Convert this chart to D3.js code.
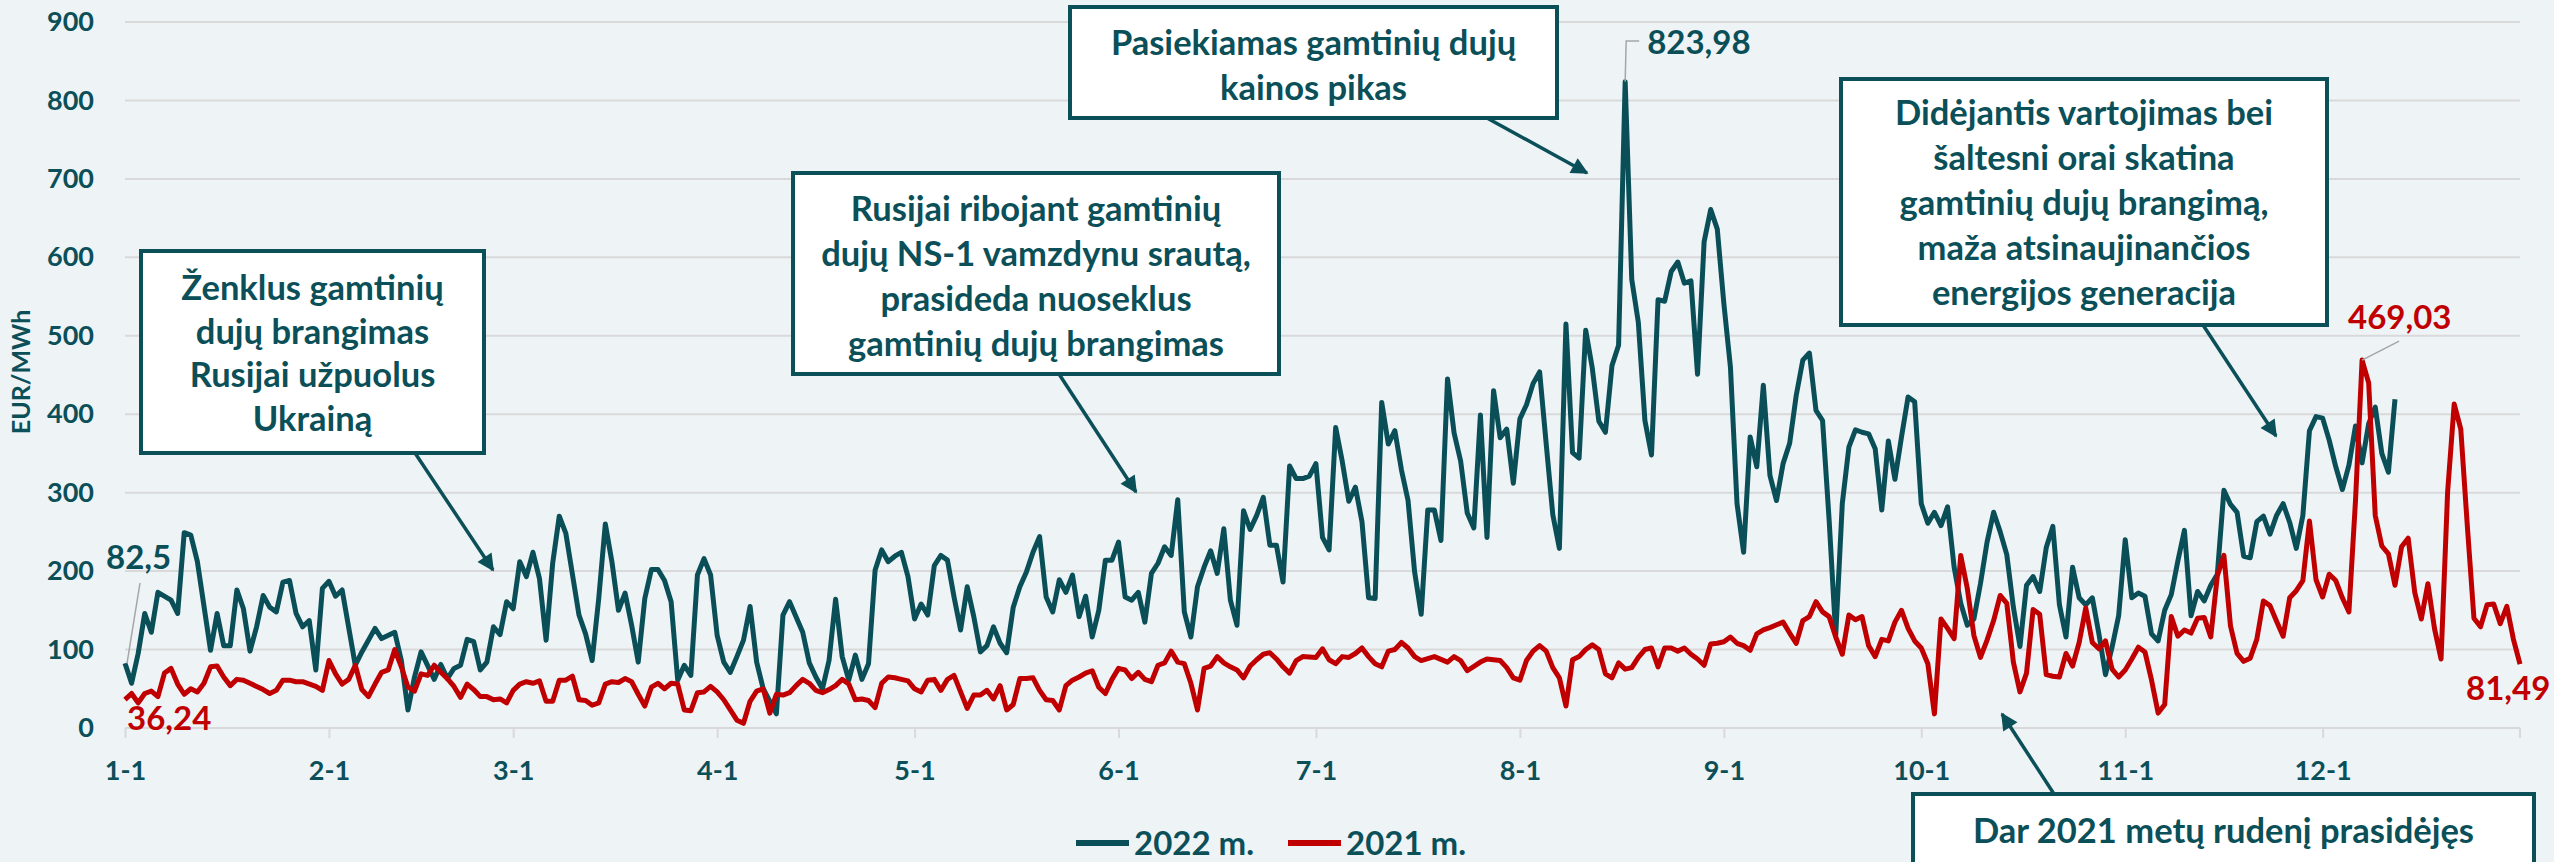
<!DOCTYPE html>
<html>
<head>
<meta charset="utf-8">
<script src="https://cdn.jsdelivr.net/npm/d3@7"></script>
<style>
  html, body { margin: 0; padding: 0; background: #eef3f6; }
  svg { display: block; font-family: Lato, "Open Sans", sans-serif; font-weight: 700; }
</style>
</head>
<body>
<div id="chart"></div>
<script>
// day of year (0 = 1 Jan) and price EUR/MWh
var days2022 = [0,1,2,3,4,5,7,8,9,10,11,13,14,15,16,17,18,19,20,21,22,23,24,25,26,27,28,29,30,31,32,33,35,36,38,39,41,42,43,44,45,47,48,49,50,51,52,53,54,55,56,57,58,59,60,61,62,63,64,65,66,67,69,70,71,72,73,74,75,76,77,78,79,80,81,82,83,84,85,86,87,88,89,90,91,92,93,94,95,96,97,99,100,101,103,104,105,106,107,108,109,110,111,112,113,114,115,116,117,118,119,120,121,122,123,124,125,126,127,128,129,130,131,132,133,134,135,136,137,138,139,140,141,142,143,144,145,146,147,148,149,150,151,152,153,154,155,156,157,158,159,160,161,162,163,164,165,166,167,168,169,170,171,172,173,174,175,176,177,178,179,180,181,182,183,184,185,186,187,188,189,190,191,192,193,194,195,196,197,198,199,200,201,202,203,204,205,206,207,208,209,210,211,212,213,214,215,216,217,218,219,220,221,222,223,224,225,226,227,228,229,230,231,232,233,234,235,236,237,238,239,240,241,242,243,244,245,246,247,248,249,250,251,252,253,254,255,256,257,258,259,260,261,262,263,264,265,266,267,268,269,270,271,272,273,274,275,276,277,278,279,280,281,282,283,284,285,286,287,288,289,290,291,292,293,294,295,296,297,298,299,300,301,302,303,304,305,306,307,308,309,310,311,312,313,314,315,316,317,318,319,320,321,322,323,324,325,326,327,328,329,330,331,332,333,334,335,336,337,338,339,340,341,342,343,344,345];
var price2022 = [82.5,57,95,146,122,173,163,146,249,246,212,99,146,105,105,176,152,98,129,169,154,148,186,188,146,129,137,74,178,187,168,176,80,97,127,114,122,86,23,65,97,62,81,63,76,80,113,110,74,84,129,119,161,152,212,193,224,190,112,210,270,248,144,120,86,165,260,212,150,172,131,84,165,202,202,188,161,61,80,67,195,216,195,118,84,71,91,112,155,84,50,18,144,161,122,83,65,50,86,164,91,61,93,62,82,201,227,212,219,224,193,139,158,144,207,220,214,167,125,180,142,97,105,129,108,96,154,180,199,224,244,167,148,189,173,195,142,168,116,150,214,214,237,167,163,173,135,197,210,231,220,291,148,116,180,205,226,197,254,163,131,277,253,271,294,233,233,186,334,318,318,321,337,243,227,383,340,289,307,263,166,165,415,362,379,329,290,199,145,278,278,239,445,376,340,274,255,399,243,430,370,381,312,394,412,439,454,362,272,229,515,351,344,507,459,391,377,462,488,823.98,572,517,392,348,546,544,582,594,567,570,451,620,661,636,541,460,286,224,371,333,437,322,290,337,363,424,469,478,405,392,265,118,286,358,380,377,375,356,278,366,317,371,422,416,286,261,275,258,282,205,159,131,139,184,237,275,250,221,154,104,182,193,174,230,257,157,116,205,166,157,166,120,68,103,143,240,166,172,168,120,111,150,170,213,252,143,174,162,182,196,303,285,275,219,217,263,270,247,271,286,262,229,271,379,397,395,367,333,304,335,385,338,388,409,350,326,419];

var days2021 = [0,1,2,3,4,5,6,7,8,9,10,11,12,13,14,15,16,17,18,19,21,22,23,24,25,26,27,29,30,31,32,33,34,35,36,37,38,39,40,41,42,43,44,45,46,47,48,49,50,51,52,53,54,55,56,57,58,59,60,61,62,63,64,65,66,67,68,69,70,71,72,73,74,75,76,77,78,79,80,81,82,83,84,85,86,87,88,89,90,91,92,93,94,95,96,97,98,99,100,101,102,103,104,105,106,107,108,109,110,111,112,113,114,115,116,117,118,119,120,121,122,123,124,125,126,127,128,129,130,131,132,133,134,135,136,137,138,139,140,141,142,143,144,145,146,147,148,149,150,151,152,153,154,155,156,157,158,159,160,161,162,163,164,165,166,167,168,169,170,171,172,173,174,175,176,177,178,179,181,182,183,184,185,186,187,188,189,190,191,192,193,194,195,196,197,199,201,202,203,204,206,207,209,210,211,212,213,214,215,216,217,218,219,220,221,222,223,224,225,226,227,228,229,230,231,232,233,234,235,236,237,238,239,240,241,242,243,244,245,246,247,248,249,250,252,253,254,255,256,257,258,259,260,261,262,263,264,265,266,267,268,269,270,271,272,273,274,275,276,277,278,279,280,281,282,283,284,285,286,287,288,289,290,291,292,293,294,295,296,297,298,299,300,301,302,303,304,305,306,307,308,309,310,311,312,313,314,315,316,317,318,319,320,321,322,323,324,325,326,327,328,329,330,331,332,333,334,335,336,337,338,339,340,341,342,343,344,345,346,347,348,349,350,351,352,353,354,355,356,357,358,359,360,361,362,363,364];
var price2021 = [36.24,44,32,44,47,40,70,76,56,43,50,46,57,78,79,65,54,62,61,57,49,44,48,61,61,59,59,53,48,86,69,56,62,80,49,40,56,71,74,100,78,52,47,69,67,80,71,63,53,39,56,49,40,40,36,37,32,48,56,59,57,60,34,34,61,61,66,36,35,29,32,56,59,58,63,59,43,28,52,57,50,57,56,23,22,45,46,53,46,36,23,10,6,34,47,50,19,43,42,45,54,62,57,48,45,49,54,62,56,36,37,35,26,57,65,64,62,60,50,46,61,62,48,62,67,46,25,42,42,48,37,54,23,30,63,63,64,48,36,35,23,54,61,65,70,73,52,44,62,76,74,63,71,62,59,80,83,98,84,82,57,23,76,79,91,83,78,74,64,79,87,94,96,88,78,70,86,91,90,101,87,82,91,90,95,102,91,82,78,98,100,109,102,91,86,91,84,91,86,73,84,88,86,77,64,61,86,98,105,98,77,64,28,87,91,100,106,100,69,64,83,75,77,90,100,102,78,102,102,98,102,94,88,80,107,108,110,116,108,105,99,120,125,128,135,121,108,137,142,161,148,142,116,94,144,138,142,105,91,113,111,135,150,127,111,102,82,18,139,127,114,220,178,118,90,112,137,169,159,84,46,70,151,145,68,66,65,95,79,109,153,109,101,111,75,65,74,88,103,97,61,19,30,142,117,125,121,140,141,116,194,220,130,95,85,89,113,162,156,136,117,166,175,188,264,189,167,196,188,166,148,290,469.03,440,271,232,222,182,231,242,173,139,184,127,88,301,413,381,257,140,129,157,158,133,155,113,81.49];

var yTicks = [0, 100, 200, 300, 400, 500, 600, 700, 800, 900];
var seriesNames = ["2022 m.", "2021 m."];
var seriesColors = ["#0a4f58", "#c00000"];

var notes = [
  ["Ženklus gamtinių", "dujų brangimas", "Rusijai užpuolus", "Ukrainą"],
  ["Rusijai ribojant gamtinių", "dujų NS-1 vamzdynu srautą,", "prasideda nuoseklus", "gamtinių dujų brangimas"],
  ["Pasiekiamas gamtinių dujų", "kainos pikas"],
  ["Didėjantis vartojimas bei", "šaltesni orai skatina", "gamtinių dujų brangimą,", "maža atsinaujinančios", "energijos generacija"],
  ["Dar 2021 metų rudenį prasidėjęs", "Rusijos energetinis šantažas Europai"]
];

var textColor = "#0b4f58";
var svgWidth = 2554, svgHeight = 862;
var plotLeft = 125, plotRight = 2520, plotTop = 22, plotBottom = 728;

var svg = d3.select("#chart").append("svg")
  .attr("width", svgWidth)
  .attr("height", svgHeight);

svg.append("rect").attr("width", svgWidth).attr("height", svgHeight).attr("fill", "#eef3f6");

var start = new Date(2022, 0, 1);
function dayDate(d) { return d3.timeDay.offset(start, d); }

var x = d3.scaleTime().domain([start, new Date(2022, 11, 31)]).range([plotLeft, plotRight]);
var y = d3.scaleLinear().domain([0, 900]).range([plotBottom, plotTop]);

// gridlines
svg.append("g").selectAll("line").data(yTicks).enter().append("line")
  .attr("x1", plotLeft).attr("x2", plotRight)
  .attr("y1", d => y(d)).attr("y2", d => y(d))
  .attr("stroke", "#d9d9d9").attr("stroke-width", 2);

// y axis labels
var yAxis = svg.append("g").attr("transform", `translate(${plotLeft},0)`)
  .call(d3.axisLeft(y).tickValues(yTicks).tickSize(0).tickPadding(31));
yAxis.select(".domain").remove();
yAxis.selectAll("text").attr("fill", textColor).style("font-size", "27px").style("font-family", "Lato").style("font-weight", 700);

// x axis
var months = d3.timeMonth.range(start, new Date(2022, 11, 31));
var xAxis = svg.append("g").attr("transform", `translate(0,${plotBottom})`)
  .call(d3.axisBottom(x).tickValues(months).tickFormat(d3.timeFormat("%-m-%-d")).tickSize(10).tickPadding(23));
xAxis.select(".domain").remove();
xAxis.selectAll("line").attr("stroke", "#d9d9d9").attr("stroke-width", 2);
xAxis.selectAll("text").attr("fill", textColor).style("font-size", "27px").style("font-family", "Lato").style("font-weight", 700);
svg.append("line").attr("x1", plotRight).attr("x2", plotRight).attr("y1", plotBottom).attr("y2", plotBottom + 10)
  .attr("stroke", "#d9d9d9").attr("stroke-width", 2);

// y title
svg.append("text")
  .attr("transform", "translate(21,372) rotate(-90)")
  .attr("text-anchor", "middle").attr("dy", "0.35em")
  .attr("fill", textColor).style("font-size", "25px")
  .text("EUR/MWh");

// lines
var line = d3.line().x(d => x(dayDate(d[0]))).y(d => y(d[1]));
var data2022 = days2022.map((d, i) => [d, price2022[i]]);
var data2021 = days2021.map((d, i) => [d, price2021[i]]);

[data2022, data2021].forEach(function(data, i) {
  svg.append("path").datum(data)
    .attr("d", line)
    .attr("fill", "none")
    .attr("stroke", seriesColors[i])
    .attr("stroke-width", 5)
    .attr("stroke-linejoin", "round");
});

// value labels
function leader(points) {
  svg.append("polyline").attr("points", points.map(p => p.join(",")).join(" "))
    .attr("fill", "none").attr("stroke", "#a6a6a6").attr("stroke-width", 1.5);
}
function valueLabel(txt, lx, ly, color) {
  svg.append("text").attr("x", lx).attr("y", ly).attr("dy", "0.35em")
    .attr("fill", color).style("font-size", "33px").text(txt);
}

var first22 = data2022[0], peak22 = data2022[d3.maxIndex(data2022, d => d[1])];
var first21 = data2021[0], peak21 = data2021[d3.maxIndex(data2021, d => d[1])], last21 = data2021[data2021.length - 1];

leader([[x(dayDate(first22[0])) + 2, y(first22[1])], [140, 583]]);
valueLabel(String(first22[1]).replace(".", ","), 106, 557, seriesColors[0]);
valueLabel(String(first21[1]).replace(".", ","), 127, 718, seriesColors[1]);

var px = x(dayDate(peak22[0])), py = y(peak22[1]);
leader([[px, py], [px + 1, 41], [px + 14, 41]]);
valueLabel(String(peak22[1]).replace(".", ","), px + 22, 42, seriesColors[0]);

var rx = x(dayDate(peak21[0])), ry = y(peak21[1]);
leader([[rx, ry], [rx + 37, ry - 19]]);
valueLabel(String(peak21[1]).replace(".", ","), rx - 14, 317, seriesColors[1]);

valueLabel(String(last21[1]).replace(".", ","), 2466, 688, seriesColors[1]);

// annotations
var defs = svg.append("defs");
defs.append("marker").attr("id", "arrow")
  .attr("viewBox", "0 0 10 10").attr("refX", 9).attr("refY", 5)
  .attr("markerUnits", "userSpaceOnUse")
  .attr("markerWidth", 20).attr("markerHeight", 17)
  .attr("orient", "auto")
  .append("path").attr("d", "M0,0 L10,5 L0,10 z").attr("fill", textColor);

var boxes = [
  {x0: 141, y0: 251, x1: 484, y1: 453, ty: 288, gap: 43.5, arrow: [[415, 453], [493, 570]]},
  {x0: 793, y0: 173, x1: 1279, y1: 374, ty: 209, gap: 45, arrow: [[1059, 374], [1136, 492]]},
  {x0: 1070, y0: 7, x1: 1557, y1: 118, ty: 43, gap: 45, arrow: [[1487, 118], [1587, 173]]},
  {x0: 1841, y0: 79, x1: 2327, y1: 325, ty: 113, gap: 45, arrow: [[2203, 325], [2276, 436]]},
  {x0: 1913, y0: 794, x1: 2534, y1: 960, ty: 831, gap: 45, arrow: [[2054, 794], [2002, 714]]}
];

boxes.forEach(function(b, i) {
  svg.append("line")
    .attr("x1", b.arrow[0][0]).attr("y1", b.arrow[0][1])
    .attr("x2", b.arrow[1][0]).attr("y2", b.arrow[1][1])
    .attr("stroke", textColor).attr("stroke-width", 3.5)
    .attr("marker-end", "url(#arrow)");
  svg.append("rect")
    .attr("x", b.x0).attr("y", b.y0)
    .attr("width", b.x1 - b.x0).attr("height", b.y1 - b.y0)
    .attr("fill", "#ffffff").attr("stroke", textColor).attr("stroke-width", 4);
  svg.append("g").selectAll("text").data(notes[i]).enter().append("text")
    .attr("x", (b.x0 + b.x1) / 2)
    .attr("y", (d, j) => b.ty + j * b.gap)
    .attr("dy", "0.35em")
    .attr("text-anchor", "middle")
    .attr("fill", textColor)
    .style("font-size", "34.5px")
    .text(d => d);
});

// legend
var legend = svg.append("g");
var legendX = [1076, 1288];
seriesNames.forEach(function(name, i) {
  legend.append("line")
    .attr("x1", legendX[i]).attr("x2", legendX[i] + 53)
    .attr("y1", 843).attr("y2", 843)
    .attr("stroke", seriesColors[i]).attr("stroke-width", 6);
  legend.append("text")
    .attr("x", legendX[i] + 58).attr("y", 843).attr("dy", "0.35em")
    .attr("fill", textColor).style("font-size", "33px")
    .text(name);
});
</script>
</body>
</html>
